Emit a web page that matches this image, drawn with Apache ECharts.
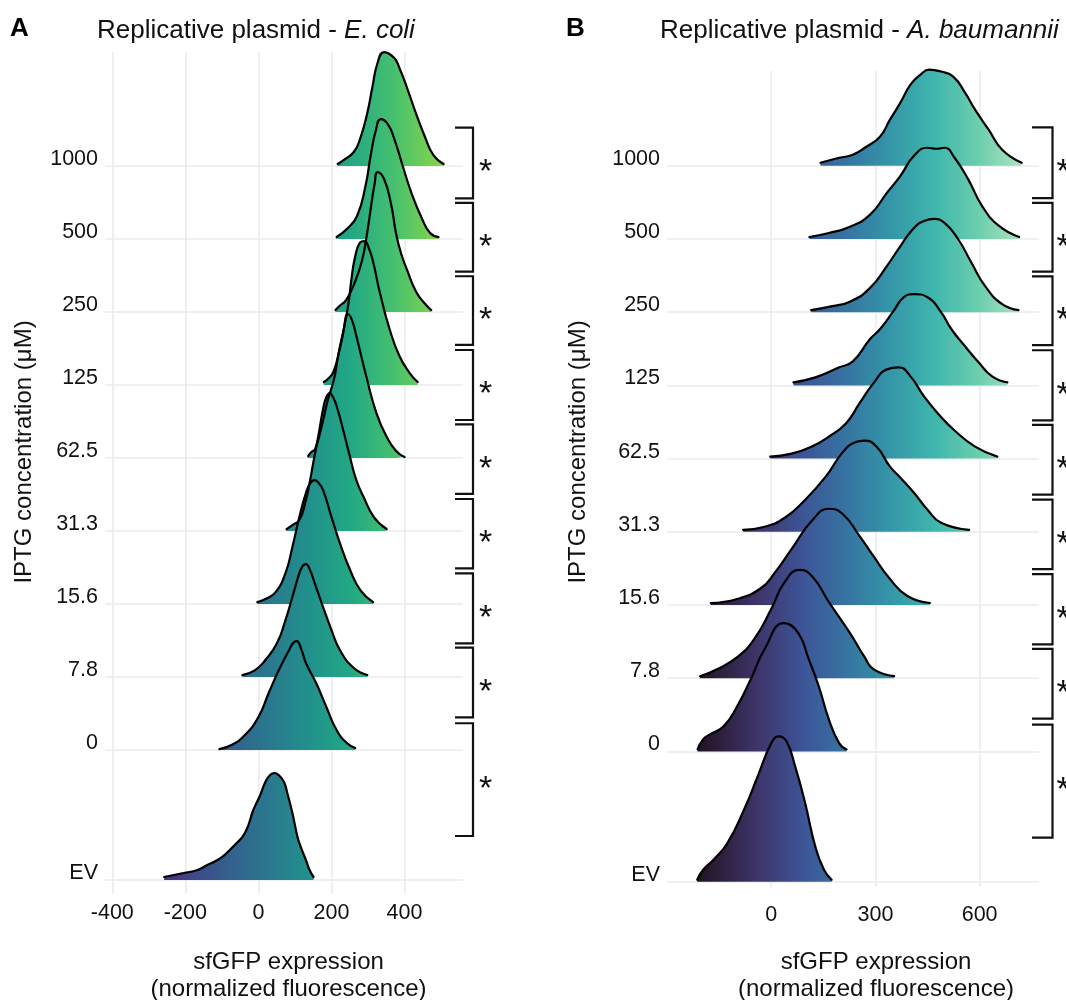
<!DOCTYPE html>
<html><head><meta charset="utf-8">
<script src="https://cdn.jsdelivr.net/npm/echarts@6/dist/echarts.min.js"></script>
<style>html,body{margin:0;padding:0;background:#fff}#c{width:1066px;height:1000px}</style>
</head><body><div id="c"></div>
<script>
// ---------- data ----------
const categories = ['EV','0','7.8','15.6','31.3','62.5','125','250','500','1000'];
const rowPositions = [0,1.78,2.78,3.78,4.78,5.78,6.78,7.78,8.78,9.78];
const xTicksEcoli = [-400,-200,0,200,400];
const xTicksAbau = [0,300,600];

// ridge profiles: [sfGFP value, ridge height]
const ecoliEV   = [[-258,3],[-205,7],[-167,10],[-140,15],[-112,20],[-93,25],[-65,35],[-37,47],[-14,70],[-4,78],[5,85],[19,98],[32,105],[44,107],[58,104],[70,98],[79,87],[93,67],[107,43],[116,33],[130,20],[140,10],[151,3]];
const ecoli0    = [[-107,1],[-74,5],[-37,15],[0,33],[28,57],[56,80],[84,100],[95,107],[105,109],[117,101],[130,87],[158,67],[186,43],[214,20],[242,7],[265,2]];
const ecoli7_8  = [[-44,2],[-9,7],[19,17],[51,34],[74,57],[93,80],[112,104],[121,111],[130,113],[140,108],[154,94],[177,70],[200,47],[223,27],[261,9],[298,2]];
const ecoli15_6 = [[-3,2],[19,5],[47,12],[74,31],[93,57],[112,87],[130,111],[142,121],[154,124],[165,121],[177,114],[200,87],[223,61],[251,34],[279,14],[314,2]];
const ecoli31_3 = [[77,2],[93,6],[112,11],[128,28],[140,48],[150,68],[164,95],[177,122],[186,134],[195,138],[204,134],[214,125],[232,101],[250,75],[268,51],[288,34],[316,14],[351,2]];
const ecoli62_5 = [[136,2],[145,6],[155,9],[172,30],[190,58],[207,79],[218,102],[232,126],[245,144],[256,138],[268,122],[295,82],[323,45],[350,22],[377,7],[400,1]];
const ecoli125  = [[179,3],[190,6],[205,13],[222,35],[236,60],[247,83],[255,107],[264,127],[277,142],[290,144],[302,137],[314,123],[332,93],[359,56],[386,29],[414,12],[436,3]];
const ecoli250  = [[211,2],[222,6],[240,12],[262,28],[284,52],[298,80],[310,110],[318,128],[326,140],[344,133],[363,108],[377,78],[391,58],[405,44],[432,20],[459,7],[473,2]];
const ecoli500  = [[214,2],[242,10],[270,23],[293,53],[307,83],[321,108],[335,120],[354,115],[372,100],[395,73],[419,46],[447,21],[470,6],[493,2]];
const ecoli1000 = [[217,2],[233,6],[261,14],[279,28],[298,53],[312,79],[326,103],[344,114],[372,108],[386,98],[409,76],[428,56],[456,29],[479,11],[507,2]];

const abauEV    = [[-213,2],[-196,12],[-166,22],[-127,38],[-78,72],[-39,105],[0,138],[22,145],[44,140],[69,115],[98,78],[127,35],[152,12],[174,2]];
const abau0     = [[-212,2],[-196,12],[-176,17],[-137,25],[-98,45],[-59,72],[-19,102],[37,128],[78,118],[108,92],[137,65],[166,32],[196,8],[217,2]];
const abau7_8   = [[-205,2],[-156,9],[-98,21],[-49,39],[0,69],[39,96],[81,108],[117,102],[166,76],[225,46],[269,21],[294,9],[354,2]];
const abau15_6  = [[-174,2],[-98,6],[-29,17],[10,32],[59,56],[117,84],[166,96],[205,91],[254,69],[294,49],[342,26],[392,9],[457,2]];
const abau31_3  = [[-81,2],[-19,5],[39,14],[98,32],[157,55],[205,79],[240,89],[269,91],[303,85],[342,65],[372,54],[411,39],[450,22],[489,9],[570,2]];
const abau62_5  = [[-3,2],[59,5],[117,12],[166,22],[215,35],[254,55],[294,75],[333,89],[367,91],[401,82],[440,62],[480,45],[528,28],[587,12],[651,2]];
const abau125   = [[64,3],[127,8],[196,18],[235,24],[284,46],[313,56],[352,74],[382,88],[411,91],[450,88],[489,73],[519,56],[558,39],[597,23],[636,9],[680,3]];
const abau250   = [[115,2],[176,6],[230,11],[284,24],[333,46],[372,66],[411,84],[440,91],[470,93],[499,89],[538,73],[577,49],[616,26],[665,8],[712,2]];
const abau500   = [[110,2],[166,6],[225,12],[284,24],[333,46],[372,63],[411,83],[450,91],[475,90],[499,91],[528,81],[568,59],[607,33],[656,13],[714,2]];
const abau1000  = [[142,3],[196,8],[235,11],[274,19],[313,29],[342,46],[372,63],[401,81],[430,91],[455,96],[489,94],[524,89],[558,73],[587,56],[626,36],[665,16],[721,3]];

const ecoliRidges = [ecoliEV, ecoli0, ecoli7_8, ecoli15_6, ecoli31_3, ecoli62_5, ecoli125, ecoli250, ecoli500, ecoli1000];
const abauRidges  = [abauEV, abau0, abau7_8, abau15_6, abau31_3, abau62_5, abau125, abau250, abau500, abau1000];

// significance brackets (y-axis units) and their labels
const bracketLo = [9.338, 8.333, 7.329, 6.301, 5.288, 4.270, 3.242, 2.229, 0.603];
const bracketHi = [10.305, 9.274, 8.270, 7.260, 6.242, 5.219, 4.201, 3.182, 2.147];
const bracketLabels = ['*','*','*','*','*','*','*','*','*'];

// ---------- styles ----------
const FONT = '"Liberation Sans", Arial, Helvetica, sans-serif';
const RIDGE_PX = 73;
const viridis = ['#440154','#482475','#414487','#355f8d','#2a788e','#21918c','#22a884','#44bf70','#7ad151','#bddf26','#fde725'];
const mako = ['#0b0405','#2b1c35','#3e356b','#3d5496','#3674a1','#3496a8','#3fb6ad','#6bcead','#b0e3c1','#def5e5'];

const panels = [
  {grid:{left:105, top:52, width:358, height:841}, xMin:-420, xMax:560, yMin:-0.178, yMax:11.342,
   xTicks:xTicksEcoli, ridges:ecoliRidges, cmap:viridis, cRange:[-420,700], xLabelMargin:9,
   bIn:8, bOut:10, starGap:12.5},
  {grid:{left:667, top:71, width:372, height:816}, xMin:-300, xMax:771, yMin:-0.072, yMax:11.075,
   xTicks:xTicksAbau, ridges:abauRidges, cmap:mako, cRange:[-290,850], xLabelMargin:17,
   bIn:7, bOut:13.5, starGap:10.5}
];

const gridLine = {show:true, lineStyle:{color:'#ebebeb', width:1.6}};
const option = {
  animation:false,
  backgroundColor:'#fff',
  grid: panels.map(p => Object.assign({containLabel:false}, p.grid)),
  xAxis: panels.map((p,i) => ({
    type:'value', gridIndex:i, min:p.xMin, max:p.xMax,
    axisLine:{show:false}, axisTick:{show:false, customValues:p.xTicks},
    axisLabel:{customValues:p.xTicks, margin:p.xLabelMargin, fontSize:21.5, fontFamily:FONT, color:'#111'},
    splitLine:gridLine
  })),
  yAxis: panels.map((p,i) => ({
    type:'value', gridIndex:i, min:p.yMin, max:p.yMax,
    axisLine:{show:false}, axisTick:{show:false, customValues:rowPositions},
    axisLabel:{customValues:rowPositions, margin:7, fontSize:21.5, fontFamily:FONT, color:'#111',
      verticalAlign:'bottom', lineHeight:14,
      formatter: v => { const k = rowPositions.findIndex(q => Math.abs(q - v) < 1e-6); return k >= 0 ? categories[k] : ''; }},
    splitLine:gridLine
  })),
  series: [],
  graphic: [
    {type:'text', x:10, y:29, style:{text:'A', font:'bold 26px '+FONT, fill:'#000', verticalAlign:'middle'}},
    {type:'text', x:566, y:29, style:{text:'B', font:'bold 26px '+FONT, fill:'#000', verticalAlign:'middle'}},
    {type:'text', x:97, y:31, style:{text:'{n|Replicative plasmid - }{i|E. coli}', verticalAlign:'middle', fill:'#111',
      rich:{n:{font:'26px '+FONT, fill:'#111'}, i:{font:'italic 26px '+FONT, fill:'#111'}}}},
    {type:'text', x:660, y:31, style:{text:'{n|Replicative plasmid - }{i|A. baumannii}', verticalAlign:'middle', fill:'#111',
      rich:{n:{font:'26px '+FONT, fill:'#111'}, i:{font:'italic 26px '+FONT, fill:'#111'}}}},
    {type:'text', x:24, y:452, rotation:Math.PI/2, style:{text:'IPTG concentration (μM)', font:'24px '+FONT, fill:'#111', align:'center', verticalAlign:'middle'}},
    {type:'text', x:578, y:452, rotation:Math.PI/2, style:{text:'IPTG concentration (μM)', font:'24px '+FONT, fill:'#111', align:'center', verticalAlign:'middle'}},
    {type:'text', x:288.5, y:976, style:{text:'sfGFP expression\n(normalized fluorescence)', font:'24px '+FONT, fill:'#111', align:'center', verticalAlign:'middle', lineHeight:27}},
    {type:'text', x:876, y:976, style:{text:'sfGFP expression\n(normalized fluorescence)', font:'24px '+FONT, fill:'#111', align:'center', verticalAlign:'middle', lineHeight:27}}
  ]
};

panels.forEach((p, pi) => {
  for (let k = categories.length - 1; k >= 0; k--) {
    const base = rowPositions[k];
    option.series.push({
      id:'ridge-'+pi+'-'+k, type:'line', xAxisIndex:pi, yAxisIndex:pi,
      data: p.ridges[k].map(d => [d[0], base + d[1] / RIDGE_PX]),
      smooth:0.5, symbol:'none', clip:false, silent:true, z:2,
      lineStyle:{color:'#000', width:2.2, join:'round', cap:'round'},
      areaStyle:{origin:base, color:'#888', opacity:1}
    });
  }
  option.series.push({
    id:'brackets-'+pi, type:'custom', xAxisIndex:pi, yAxisIndex:pi, clip:false, silent:true, z:5,
    data: bracketLo.map((lo, j) => [lo, bracketHi[j]]),
    renderItem: (params, api) => {
      const cs = params.coordSys;
      const yLo = api.coord([0, api.value(0)])[1];
      const yHi = api.coord([0, api.value(1)])[1];
      const right = cs.x + cs.width;
      const xL = right - p.bIn, xR = right + p.bOut;
      return {type:'group', children:[
        {type:'polyline', shape:{points:[[xL,yHi],[xR,yHi],[xR,yLo],[xL,yLo]]},
         style:{stroke:'#111', lineWidth:2.2, fill:null}},
        {type:'text', style:{text:bracketLabels[params.dataIndex], x:xR + p.starGap, y:(yHi + yLo)/2 + 10,
         align:'center', verticalAlign:'middle', font:'34px '+FONT, fill:'#111'}}
      ]};
    }
  });
});

const chart = echarts.init(document.getElementById('c'), null, {renderer:'canvas'});
chart.setOption(option);

// horizontal colour gradient mapped onto the x value (global pixel coordinates)
function gradient(pi) {
  const p = panels[pi];
  const x0 = chart.convertToPixel({xAxisIndex:pi}, p.cRange[0]);
  const x1 = chart.convertToPixel({xAxisIndex:pi}, p.cRange[1]);
  return {type:'linear', x:x0, y:0, x2:x1, y2:0, global:true,
    colorStops: p.cmap.map((c, i) => ({offset:i / (p.cmap.length - 1), color:c}))};
}
const upd = [];
panels.forEach((p, pi) => {
  const g = gradient(pi);
  for (let k = categories.length - 1; k >= 0; k--) upd.push({id:'ridge-'+pi+'-'+k, areaStyle:{color:g}});
});
chart.setOption({series:upd});
</script>
</body></html>
